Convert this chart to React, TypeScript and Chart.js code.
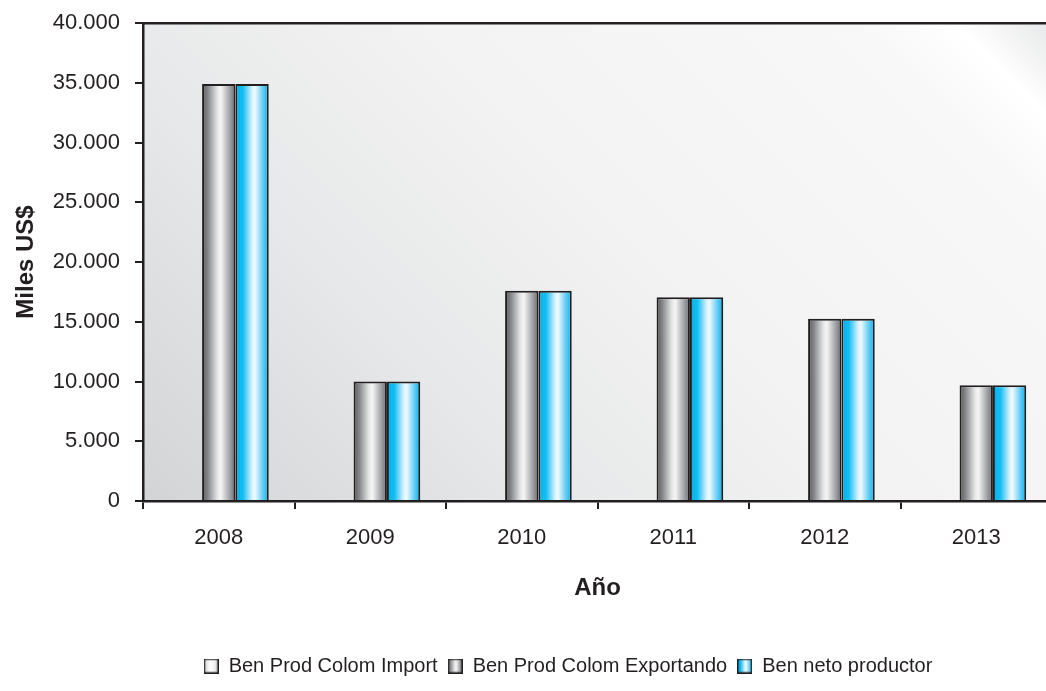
import React, { useEffect, useRef } from "react";
import { Chart, registerables } from "chart.js";
Chart.register(...registerables);

const years = ["2008", "2009", "2010", "2011", "2012", "2013"];
const seriesNames = ["Ben Prod Colom Import", "Ben Prod Colom Exportando", "Ben neto productor"];
const importValues = [0, 0, 0, 0, 0, 0];
const exportValues = [34900, 10000, 17600, 17050, 15250, 9680];
const netoValues = [34900, 10000, 17600, 17050, 15250, 9680];
const yTickValues = [0, 5000, 10000, 15000, 20000, 25000, 30000, 35000, 40000];
const yTitle = "Miles US$";
const xTitle = "Año";

const FONT = "'Liberation Sans', Arial, sans-serif";
const DARK = "#231f20";
const CAT_PCT = 0.66;

type Stop = [number, string];
const grayStops: Stop[] = [
  [0, "#58595b"], [0.18, "#87888b"], [0.45, "#e2e3e4"], [0.56, "#f6f6f6"], [0.78, "#b0b1b4"], [1, "#6a6b6e"],
];
const cyanStops: Stop[] = [
  [0, "#00b2ee"], [0.22, "#12bdf2"], [0.5, "#d6f1fc"], [0.58, "#f2fbff"], [0.8, "#71d1f5"], [1, "#00aeef"],
];
const whiteStops: Stop[] = [
  [0, "#c9cacc"], [0.4, "#ffffff"], [0.7, "#f4f4f5"], [1, "#cfd0d2"],
];
const stopsList = [whiteStops, grayStops, cyanStops];
const flatColors = ["#e6e7e8", "#a7a9ac", "#6fd0f6"];

function makeGrad(ctx: CanvasRenderingContext2D, x0: number, x1: number, stops: Stop[]) {
  const g = ctx.createLinearGradient(x0, 0, x1, 0);
  stops.forEach(([o, c]) => g.addColorStop(o, c));
  return g;
}

function legendIcon(stops: Stop[]) {
  const c = document.createElement("canvas");
  c.width = 15;
  c.height = 15;
  const ctx = c.getContext("2d")!;
  ctx.fillStyle = makeGrad(ctx, 0, 15, stops);
  ctx.fillRect(0, 0, 15, 15);
  ctx.strokeStyle = DARK;
  ctx.lineWidth = 1.4;
  ctx.strokeRect(0.7, 0.7, 13.6, 13.6);
  return c;
}

const fmt = (v: number) => String(v).replace(/\B(?=(\d{3})+(?!\d))/g, ".");

const bgPlugin = {
  id: "plotBg",
  beforeDraw(chart: any) {
    const { ctx, chartArea: a } = chart;
    const w = a.right - a.left;
    const h = a.bottom - a.top;
    const d = (w + h) / 2;
    const g = ctx.createLinearGradient(a.left, a.bottom, a.left + d, a.bottom - d);
    g.addColorStop(0, "#d3d4d6");
    g.addColorStop(0.3, "#e7e8e9");
    g.addColorStop(0.55, "#f3f3f3");
    g.addColorStop(0.86, "#f8f8f8");
    g.addColorStop(0.93, "#ffffff");
    g.addColorStop(1, "#e6e7e8");
    ctx.save();
    ctx.fillStyle = g;
    ctx.fillRect(a.left, a.top, w, h);
    ctx.restore();
  },
};

export default function App() {
  const ref = useRef<HTMLCanvasElement>(null);
  useEffect(() => {
    const canvas = ref.current!;
    const barBg = (si: number) => (c: any) => {
      const chart = c.chart;
      const xs = chart.scales?.x;
      if (!xs || c.dataIndex == null || !isFinite(xs.width)) return flatColors[si];
      const center = xs.getPixelForValue(c.dataIndex);
      const cat = xs.width / years.length;
      const bw = (cat * CAT_PCT) / 3;
      const left = center - 1.5 * bw + si * bw;
      return makeGrad(chart.ctx, left, left + bw, stopsList[si]);
    };
    const icons = stopsList.map(legendIcon);
    const values = [importValues, exportValues, netoValues];
    const noPad = (s: any) => {
      s.paddingTop = 0;
      s.paddingBottom = 0;
      s.paddingLeft = 0;
      s.paddingRight = 0;
    };
    const chart = new Chart(canvas, {
      type: "bar",
      data: {
        labels: years,
        datasets: seriesNames.map((name, si) => ({
          label: name,
          data: values[si],
          backgroundColor: barBg(si),
          borderColor: DARK,
          borderWidth: si === 0 ? 0 : 2,
          pointStyle: icons[si] as any,
          categoryPercentage: CAT_PCT,
          barPercentage: 1,
          xAxisID: "x",
          yAxisID: "y",
        })),
      },
      options: {
        responsive: false,
        animation: false,
        layout: { padding: { top: 23, bottom: 5, left: 0, right: 0 } },
        scales: {
          x: {
            position: "bottom",
            grid: { display: true, drawOnChartArea: false, drawTicks: true, tickLength: 8, color: DARK, lineWidth: 2, offset: true },
            border: { display: true, color: DARK, width: 2.5 },
            ticks: { color: DARK, font: { family: FONT, size: 22 }, padding: 16 },
            title: { display: true, text: xTitle, color: DARK, font: { family: FONT, size: 24, weight: "bold" }, padding: { top: 0, bottom: 43 } },
            afterFit: (s: any) => { s.height = 145; noPad(s); },
          },
          x2: {
            type: "category",
            position: "top",
            labels: years,
            grid: { display: false, drawOnChartArea: false, drawTicks: false },
            border: { display: true, color: DARK, width: 2.5 },
            ticks: { display: false },
            afterFit: (s: any) => { s.height = 0; noPad(s); },
          },
          y: {
            position: "left",
            min: yTickValues[0],
            max: yTickValues[yTickValues.length - 1],
            afterBuildTicks: (s: any) => { s.ticks = yTickValues.map((v) => ({ value: v })); },
            grid: { display: true, drawOnChartArea: false, drawTicks: true, tickLength: 8, color: DARK, lineWidth: 2 },
            border: { display: true, color: DARK, width: 2.5 },
            ticks: { color: DARK, font: { family: FONT, size: 22 }, padding: 15, callback: (v: any) => fmt(Number(v)) },
            title: { display: true, text: yTitle, color: DARK, font: { family: FONT, size: 24, weight: "bold" }, padding: { top: 12, bottom: 0 } },
            afterFit: (s: any) => { s.width = 143; noPad(s); },
          },
          y2: {
            position: "right",
            grid: { display: false },
            border: { display: false },
            ticks: { display: false },
            afterFit: (s: any) => { s.width = 84; noPad(s); },
          },
        },
        plugins: {
          legend: {
            position: "bottom",
            labels: {
              usePointStyle: true,
              boxWidth: 15,
              boxHeight: 15,
              padding: 10,
              color: DARK,
              font: { family: FONT, size: 20 },
            },
          },
          tooltip: { enabled: false },
        },
      } as any,
      plugins: [bgPlugin],
    });
    return () => chart.destroy();
  }, []);
  return (
    <div style={{ position: "absolute", left: 0, top: 0, width: 1046, height: 691, overflow: "hidden", background: "#ffffff" }}>
      <canvas ref={ref} width={1136} height={691} style={{ width: 1136, height: 691, display: "block" }} />
    </div>
  );
}
